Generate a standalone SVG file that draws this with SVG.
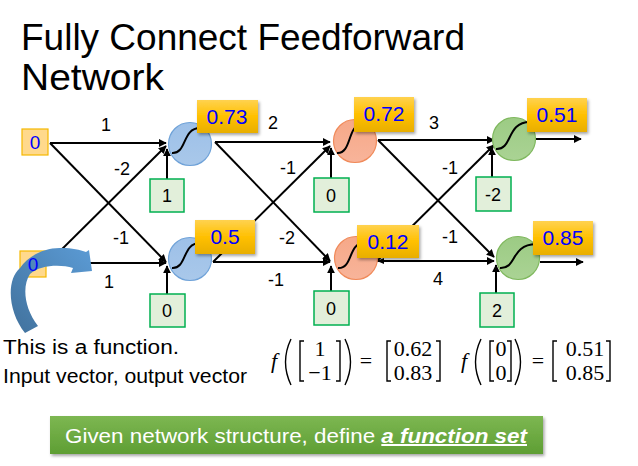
<svg xmlns="http://www.w3.org/2000/svg" width="638" height="466" viewBox="0 0 638 466">
<defs>
<marker id="ah" viewBox="0 0 10 10" refX="9" refY="5" markerWidth="8" markerHeight="8" markerUnits="userSpaceOnUse" orient="auto">
<path d="M0,0 L10,5 L0,10 Z" fill="#000"/>
</marker>
<linearGradient id="gold" x1="0" y1="0" x2="0" y2="1">
<stop offset="0" stop-color="#FFD24F"/><stop offset="0.5" stop-color="#FFC000"/><stop offset="1" stop-color="#E8AE00"/>
</linearGradient>
<linearGradient id="gBlue" x1="0" y1="0" x2="0" y2="1">
<stop offset="0" stop-color="#9DC0E8"/><stop offset="1" stop-color="#A9C8EA"/>
</linearGradient>
<linearGradient id="gOrange" x1="0" y1="0" x2="0" y2="1">
<stop offset="0" stop-color="#F6A888"/><stop offset="1" stop-color="#F8B49A"/>
</linearGradient>
<linearGradient id="gGreen" x1="0" y1="0" x2="0" y2="1">
<stop offset="0" stop-color="#9CCB84"/><stop offset="1" stop-color="#AAD394"/>
</linearGradient>
<linearGradient id="banner" x1="0" y1="0" x2="0" y2="1">
<stop offset="0" stop-color="#7DB752"/><stop offset="1" stop-color="#5E9E33"/>
</linearGradient>
<linearGradient id="curv" x1="0" y1="1" x2="1" y2="0">
<stop offset="0" stop-color="#41719C"/><stop offset="1" stop-color="#5B9BD5"/>
</linearGradient>
<filter id="sh" x="-20%" y="-20%" width="150%" height="160%">
<feDropShadow dx="1.5" dy="2" stdDeviation="1.5" flood-color="#000" flood-opacity="0.35"/>
</filter>
</defs>
<style>
.ln{stroke:#000;stroke-width:2;fill:none;marker-end:url(#ah)}
.w{font-family:"Liberation Sans",Arial,sans-serif;font-size:18px;fill:#000;text-anchor:middle}
.val rect{fill:url(#gold);filter:url(#sh)}
.val text{font-family:"Liberation Sans",Arial,sans-serif;font-size:21px;fill:#0000FF;text-anchor:middle}
.bias rect{fill:#E2EFDA;stroke:#00B050;stroke-width:1.5}
.bias text{font-family:"Liberation Sans",Arial,sans-serif;font-size:18px;fill:#000;text-anchor:middle}
.inp rect{fill:#FFD98C;stroke:#F5B800;stroke-width:1.2}
.inp text{font-family:"Liberation Sans",Arial,sans-serif;font-size:19px;fill:#0000FF;text-anchor:middle}
.sig{stroke:#000;stroke-width:2;fill:none}
.nb{fill:url(#gBlue);stroke:#6FA2D8;stroke-width:1.2}
.no{fill:url(#gOrange);stroke:#F08A5A;stroke-width:1.2}
.ng{fill:url(#gGreen);stroke:#7FB85E;stroke-width:1.2}
.m{font-family:"Liberation Serif","Times New Roman",serif;font-size:22px;fill:#000}
.br{stroke:#000;stroke-width:1.4;fill:none}
</style>

<text x="21" y="50" font-family="Liberation Sans,Arial,sans-serif" font-size="37" textLength="444" lengthAdjust="spacingAndGlyphs">Fully Connect Feedforward</text>
<text x="21" y="90" font-family="Liberation Sans,Arial,sans-serif" font-size="37" textLength="143" lengthAdjust="spacingAndGlyphs">Network</text>

<g id="connectors">
<line class="ln" x1="50" y1="143" x2="166" y2="143"/>
<line class="ln" x1="50" y1="143" x2="166" y2="262"/>
<line class="ln" x1="48" y1="263" x2="166" y2="146"/>
<line class="ln" x1="48" y1="263" x2="166" y2="263"/>
<line class="ln" x1="167" y1="179" x2="167" y2="149"/>
<line class="ln" x1="167" y1="294" x2="167" y2="266"/>
<line class="ln" x1="215" y1="142" x2="330" y2="142"/>
<line class="ln" x1="215" y1="142" x2="330" y2="261"/>
<line class="ln" x1="213" y1="262" x2="330" y2="146"/>
<line class="ln" x1="213" y1="262" x2="330" y2="262"/>
<line class="ln" x1="331" y1="178" x2="331" y2="148"/>
<line class="ln" x1="331" y1="291" x2="331" y2="266"/>
<line class="ln" x1="378" y1="140" x2="494" y2="140"/>
<line class="ln" x1="378" y1="140" x2="494" y2="257"/>
<line class="ln" x1="377" y1="261" x2="494" y2="145"/>
<line class="ln" x1="377" y1="261" x2="494" y2="261"/>
<path d="M377,261 L384,258 L384,264 Z" fill="#000"/>
<line class="ln" x1="492" y1="177" x2="492" y2="148"/>
<line class="ln" x1="496" y1="293" x2="496" y2="265"/>
<line class="ln" x1="536" y1="139" x2="581" y2="139"/>
<line class="ln" x1="540" y1="262" x2="583" y2="262"/>
</g>

<g id="weights">
<text class="w" x="106" y="131">1</text>
<text class="w" x="122" y="175">-2</text>
<text class="w" x="121" y="244">-1</text>
<text class="w" x="109" y="288">1</text>
<text class="w" x="273" y="129">2</text>
<text class="w" x="288" y="174">-1</text>
<text class="w" x="287" y="244">-2</text>
<text class="w" x="276" y="286">-1</text>
<text class="w" x="434" y="129">3</text>
<text class="w" x="450" y="174">-1</text>
<text class="w" x="450" y="243">-1</text>
<text class="w" x="438" y="285">4</text>
</g>

<g id="in1" class="inp"><rect x="22" y="129" width="26" height="26"/><text x="35" y="149">0</text></g>

<g id="b11" class="bias"><rect x="150" y="179" width="34" height="33"/><text x="167" y="202">1</text></g>
<g id="b12" class="bias"><rect x="150" y="294" width="35" height="33"/><text x="167" y="317">0</text></g>
<g id="b21" class="bias"><rect x="314" y="178" width="35" height="34"/><text x="331" y="202">0</text></g>
<g id="b22" class="bias"><rect x="314" y="291" width="35" height="34"/><text x="331" y="315">0</text></g>
<g id="b31" class="bias"><rect x="476" y="177" width="35" height="34"/><text x="493" y="201">-2</text></g>
<g id="b32" class="bias"><rect x="480" y="293" width="34" height="34"/><text x="497" y="317">2</text></g>

<g id="n11"><circle class="nb" cx="190" cy="144" r="21.5"/><path class="sig" d="M172,153 C187,154 182,128 200,128"/>
<g class="val"><rect x="197" y="100" width="61" height="33"/><text x="227" y="124">0.73</text></g></g>
<g id="n12"><circle class="nb" cx="190" cy="259" r="21.5"/><path class="sig" d="M172,268 C187,269 182,243 200,243"/>
<g class="val"><rect x="195" y="220" width="60" height="34"/><text x="225" y="244">0.5</text></g></g>
<g id="n21"><circle class="no" cx="355" cy="141" r="21.5"/><path class="sig" d="M337,153 C352,154 347,125 362,124"/>
<g class="val"><rect x="354" y="97" width="60" height="35"/><text x="384" y="121">0.72</text></g></g>
<g id="n22"><circle class="no" cx="356" cy="258" r="21.5"/><path class="sig" d="M338,268 C353,269 348,243 364,243"/>
<g class="val"><rect x="357" y="225" width="62" height="33"/><text x="388" y="249">0.12</text></g></g>
<g id="n31"><circle class="ng" cx="514" cy="139" r="21.5"/><path class="sig" d="M496,149 C513,150 506,122 530,122"/>
<g class="val"><rect x="527" y="98" width="60" height="34"/><text x="557" y="122">0.51</text></g></g>
<g id="n32"><circle class="ng" cx="518" cy="258" r="21.5"/><path class="sig" d="M500,268 C517,269 510,245 536,244"/>
<g class="val"><rect x="533" y="221" width="60" height="34"/><text x="563" y="245">0.85</text></g></g>

<g id="in2" class="inp"><rect x="20" y="251" width="26" height="26"/>
<path id="curved-arrow" d="M25,333 C8,312 6,280 20,268 C28,256 45,247 62,248 C72,248 80,250 86,252 L89,250 L92,271 L71,273 L73,268 C60,264 40,265 30,274 C22,286 24,308 38,326 Z" fill="url(#curv)"/>
<text x="33" y="271">0</text></g>

<g id="note" font-family="Liberation Sans,Arial,sans-serif" font-size="20" fill="#000">
<text x="3" y="354" textLength="176" lengthAdjust="spacingAndGlyphs">This is a function.</text>
<text x="3" y="383" textLength="244" lengthAdjust="spacingAndGlyphs">Input vector, output vector</text>
</g>

<g id="formula">
<text class="m" x="271" y="368" font-style="italic" font-size="24">f</text>
<path class="br" d="M291,339 Q280,362 291,385"/>
<path class="br" d="M304,341 L300,341 L300,381 L304,381"/>
<text class="m" x="320" y="356" text-anchor="middle">1</text>
<text class="m" x="320" y="380" text-anchor="middle">−1</text>
<path class="br" d="M336,341 L340,341 L340,381 L336,381"/>
<path class="br" d="M345,339 Q356,362 345,385"/>
<text class="m" x="366" y="368" text-anchor="middle">=</text>
<path class="br" d="M391,341 L387,341 L387,381 L391,381"/>
<text class="m" x="413" y="356" text-anchor="middle">0.62</text>
<text class="m" x="413" y="380" text-anchor="middle">0.83</text>
<path class="br" d="M436,341 L440,341 L440,381 L436,381"/>

<text class="m" x="461" y="368" font-style="italic" font-size="24">f</text>
<path class="br" d="M481,339 Q470,362 481,385"/>
<path class="br" d="M494,341 L490,341 L490,381 L494,381"/>
<text class="m" x="501" y="356" text-anchor="middle">0</text>
<text class="m" x="501" y="380" text-anchor="middle">0</text>
<path class="br" d="M507,341 L511,341 L511,381 L507,381"/>
<path class="br" d="M515,339 Q526,362 515,385"/>
<text class="m" x="538" y="368" text-anchor="middle">=</text>
<path class="br" d="M557,341 L553,341 L553,381 L557,381"/>
<text class="m" x="585" y="356" text-anchor="middle">0.51</text>
<text class="m" x="585" y="380" text-anchor="middle">0.85</text>
<path class="br" d="M606,341 L610,341 L610,381 L606,381"/>
</g>

<g id="banner">
<rect x="50" y="416" width="493" height="38" fill="url(#banner)" filter="url(#sh)"/>
<text x="296" y="443" text-anchor="middle" font-family="Liberation Sans,Arial,sans-serif" font-size="20" fill="#FFFFFF" textLength="462" lengthAdjust="spacingAndGlyphs">Given network structure, define <tspan font-weight="bold" font-style="italic" text-decoration="underline">a function set</tspan></text>
</g>
</svg>
